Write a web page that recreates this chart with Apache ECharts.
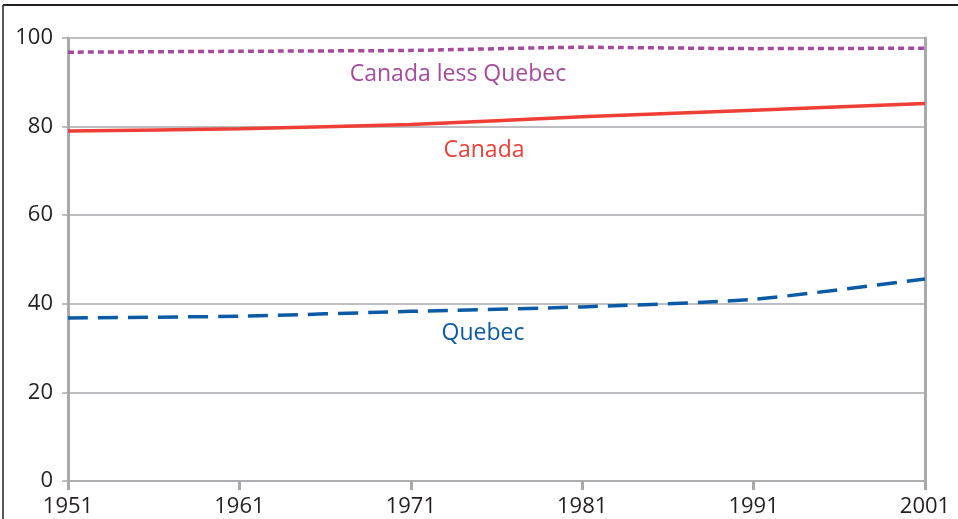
<!DOCTYPE html>
<html>
<head>
<meta charset="utf-8">
<script src="https://cdn.jsdelivr.net/npm/echarts@6/dist/echarts.min.js"></script>
<style>
  html, body { margin: 0; padding: 0; background: #fff; }
  #chart { width: 958px; height: 519px; }
</style>
</head>
<body>
<div id="chart"></div>
<script>
// years on the x axis
var years = ['1951', '1961', '1971', '1981', '1991', '2001'];
// series values (percent)
var canadaLessQuebec = [96.8, 97.0, 97.2, 97.9, 97.6, 97.7];
var canada = [79.0, 79.5, 80.5, 82.2, 83.7, 85.2];
var quebec = [36.8, 37.2, 38.3, 39.3, 41.0, 45.6];

var gray = '#a7a9ac';
var font = 'Open Sans';

var chartDom = document.getElementById('chart');
var myChart = echarts.init(chartDom);
var option = {
	animation: false,
	backgroundColor: '#fff',
	grid: { left: 68, right: 33, top: 38, bottom: 38 },
	xAxis: {
		type: 'category',
		data: years,
		boundaryGap: false,
		axisLine: { show: true, lineStyle: { color: gray, width: 1.5 } },
		axisTick: { show: true, length: 9, lineStyle: { color: gray, width: 3 } },
		axisLabel: { color: '#231f20', fontSize: 22, fontFamily: font, margin: 15 },
		splitLine: { show: false }
	},
	yAxis: [
		{
			type: 'value',
			min: 0,
			max: 100,
			interval: 20,
			axisLine: { show: true, lineStyle: { color: gray, width: 3 } },
			axisTick: { show: true, length: 6, lineStyle: { color: gray, width: 1.5 } },
			axisLabel: { color: '#231f20', fontSize: 22, fontFamily: font, margin: 15 },
			splitLine: { show: true, lineStyle: { color: gray, width: 1.5 } }
		},
		{
			type: 'value',
			position: 'right',
			min: 0,
			max: 100,
			interval: 20,
			axisLine: { show: true, lineStyle: { color: gray, width: 3 } },
			axisTick: { show: false },
			axisLabel: { show: false },
			splitLine: { show: false }
		}
	],
	series: [
		{
			name: 'Canada less Quebec',
			type: 'line',
			data: canadaLessQuebec,
			smooth: 0.2,
			symbol: 'none',
			lineStyle: { color: '#a54a9e', width: 3.5, type: [6, 4] }
		},
		{
			name: 'Canada',
			type: 'line',
			data: canada,
			smooth: 0.2,
			symbol: 'none',
			lineStyle: { color: '#ee3e35', width: 3.5 }
		},
		{
			name: 'Quebec',
			type: 'line',
			data: quebec,
			smooth: 0.2,
			symbol: 'none',
			lineStyle: { color: '#0a5aa5', width: 3.5, type: [20, 10] }
		}
	],
	graphic: [
		// frame lines
		{ type: 'line', shape: { x1: 3, y1: 5, x2: 958, y2: 5 }, style: { stroke: '#231f20', lineWidth: 2 } },
		{ type: 'line', shape: { x1: 3, y1: 5, x2: 3, y2: 519 }, style: { stroke: '#231f20', lineWidth: 1.5 } },
		// series labels
		{ type: 'text', x: 458, y: 74, style: { text: 'Canada less Quebec', fill: '#a54a9e', font: '23px "Open Sans"', textAlign: 'center', textVerticalAlign: 'middle' } },
		{ type: 'text', x: 484, y: 150, style: { text: 'Canada', fill: '#ee3e35', font: '23px "Open Sans"', textAlign: 'center', textVerticalAlign: 'middle' } },
		{ type: 'text', x: 483, y: 333, style: { text: 'Quebec', fill: '#0a5aa5', font: '23px "Open Sans"', textAlign: 'center', textVerticalAlign: 'middle' } }
	]
};
option && myChart.setOption(option);
</script>
</body>
</html>
